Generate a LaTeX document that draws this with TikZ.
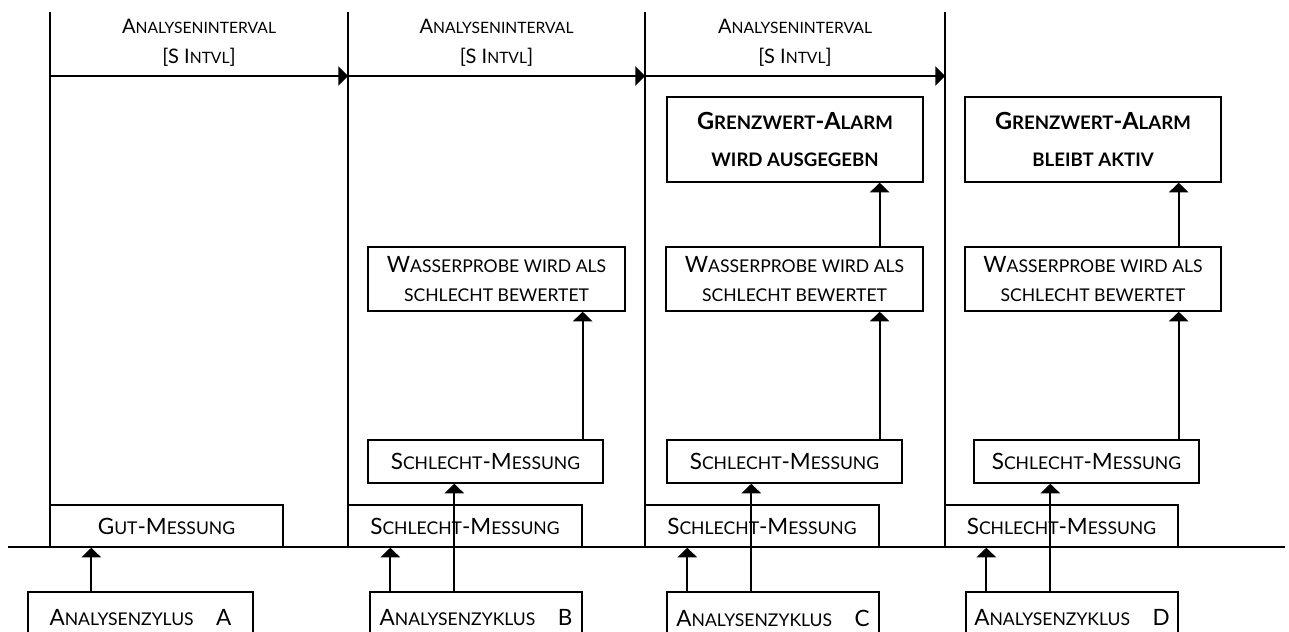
\documentclass[tikz,border=0pt]{standalone}
\usepackage{fontspec}
\setmainfont{Lato}
\usetikzlibrary{arrows.meta}

\newcommand*{\kl}[1]{{\fontsize{10}{12}\selectfont #1}}
\newcommand*{\kli}[1]{{\fontsize{8.9}{10}\selectfont #1}}
\newcommand*{\klb}[1]{{\fontsize{10.6}{12}\selectfont #1}}
\newcommand*{\base}{547}

\begin{document}
\begin{tikzpicture}
[
	x=0.02cm, y=-0.02cm,
	box/.style={draw,line width=0.8pt,inner sep=0pt,align=center,font=\fontsize{12.8}{16.5}\selectfont},
	boldbox/.style={box,font=\fontsize{13.4}{21.5}\selectfont\bfseries},
	intvl/.style={align=center,inner sep=0pt,font=\fontsize{11.4}{17}\selectfont},
	arr/.style={-{Triangle[length=5.5pt,width=11pt]},line width=1.1pt},
	line/.style={line width=0.75pt}
]

	\clip (0,0) rectangle (1289,632);

	% timeline
	\coordinate (t0) at (50,12);
	\coordinate (t1) at (348,12);
	\coordinate (t2) at (645,12);
	\coordinate (t3) at (945,12);
	\coordinate (bl) at (8,\base);
	\coordinate (br) at (1285,\base);
	\draw[line] (bl) -- (br);
	\foreach \t in {t0,t1,t2,t3}
		\draw[line] (\t) -- (\t |- bl);

	\draw[arr] ([yshift=-1.28cm]t0) -- ([yshift=-1.28cm]t1);
	\draw[arr] ([yshift=-1.28cm]t1) -- ([yshift=-1.28cm]t2);
	\draw[arr] ([yshift=-1.28cm]t2) -- ([yshift=-1.28cm]t3);
	\node[intvl] (ia) at (199,43) {A\kli{NALYSENINTERVAL}\\{}[S I\kli{NTVL}]};
	\node[intvl] (ib) at (496.5,43) {A\kli{NALYSENINTERVAL}\\{}[S I\kli{NTVL}]};
	\node[intvl] (ic) at (795,43) {A\kli{NALYSENINTERVAL}\\{}[S I\kli{NTVL}]};

	% messungen auf der zeitachse
	\node[box,minimum width=4.66cm,minimum height=0.84cm] (ma) at (166.5,526) {G\kl{UT}-M\kl{ESSUNG}};
	\node[box,minimum width=4.68cm,minimum height=0.84cm] (mb) at (465,526) {S\kl{CHLECHT}-M\kl{ESSUNG}};
	\node[box,minimum width=4.68cm,minimum height=0.84cm] (mc) at (762,526) {S\kl{CHLECHT}-M\kl{ESSUNG}};
	\node[box,minimum width=4.66cm,minimum height=0.84cm] (md) at (1061.5,526) {S\kl{CHLECHT}-M\kl{ESSUNG}};

	% analysenzyklen
	\node[box,minimum width=4.5cm,minimum height=1.04cm] (za) at (140.5,618) {A\kl{NALYSENZYLUS}\quad A};
	\node[box,minimum width=4.24cm,minimum height=1.04cm] (zb) at (476,618) {A\kl{NALYSENZYKLUS}\quad B};
	\node[box,minimum width=4.24cm,minimum height=1.04cm] (zc) at (773,618) {A\kl{NALYSENZYKLUS}\quad C};
	\node[box,minimum width=4.24cm,minimum height=1.04cm] (zd) at (1072,618) {A\kl{NALYSENZYKLUS}\quad D};

	% zweite messung
	\node[box,minimum width=4.7cm,minimum height=0.86cm] (sb) at (485.5,461.5) {S\kl{CHLECHT}-M\kl{ESSUNG}};
	\node[box,minimum width=4.7cm,minimum height=0.86cm] (sc) at (784.5,461.5) {S\kl{CHLECHT}-M\kl{ESSUNG}};
	\node[box,minimum width=4.5cm,minimum height=0.86cm] (sd) at (1086.5,461.5) {S\kl{CHLECHT}-M\kl{ESSUNG}};

	% bewertung
	\node[box,minimum width=5.14cm,minimum height=1.28cm] (wb) at (496.5,279) {W\kl{ASSERPROBE WIRD ALS}\\\kl{SCHLECHT BEWERTET}};
	\node[box,minimum width=5.14cm,minimum height=1.28cm] (wc) at (794.5,279) {W\kl{ASSERPROBE WIRD ALS}\\\kl{SCHLECHT BEWERTET}};
	\node[box,minimum width=5.12cm,minimum height=1.28cm] (wd) at (1093,279) {W\kl{ASSERPROBE WIRD ALS}\\\kl{SCHLECHT BEWERTET}};

	% alarm
	\node[boldbox,minimum width=5.12cm,minimum height=1.7cm] (gc) at (795,139.5) {G\klb{RENZWERT}-A\klb{LARM}\\\klb{WIRD AUSGEGEBN}};
	\node[boldbox,minimum width=5.12cm,minimum height=1.7cm] (gd) at (1093,139.5) {G\klb{RENZWERT}-A\klb{LARM}\\\klb{BLEIBT AKTIV}};

	% pfeile
	\draw[arr] ([xshift=1.28cm]za.north west) -- ([xshift=1.28cm]za.north west |- ma.south);
	\foreach \z/\m/\s in {zb/mb/sb,zc/mc/sc,zd/md/sd}
	{
		\draw[arr] ([xshift=0.42cm]\z.north west) -- ([xshift=0.42cm]\z.north west |- \m.south);
		\draw[arr] ([xshift=1.7cm]\z.north west) -- ([xshift=1.7cm]\z.north west |- \s.south);
	}
	\draw[arr] (sb.north -| zb.east) -- (wb.south -| zb.east);
	\draw[arr] (sc.north -| zc.east) -- (wc.south -| zc.east);
	\draw[arr] (sd.north -| zd.east) -- (wd.south -| zd.east);
	\draw[arr] (wc.north -| zc.east) -- (gc.south -| zc.east);
	\draw[arr] (wd.north -| zd.east) -- (gd.south -| zd.east);

\end{tikzpicture}
\end{document}
